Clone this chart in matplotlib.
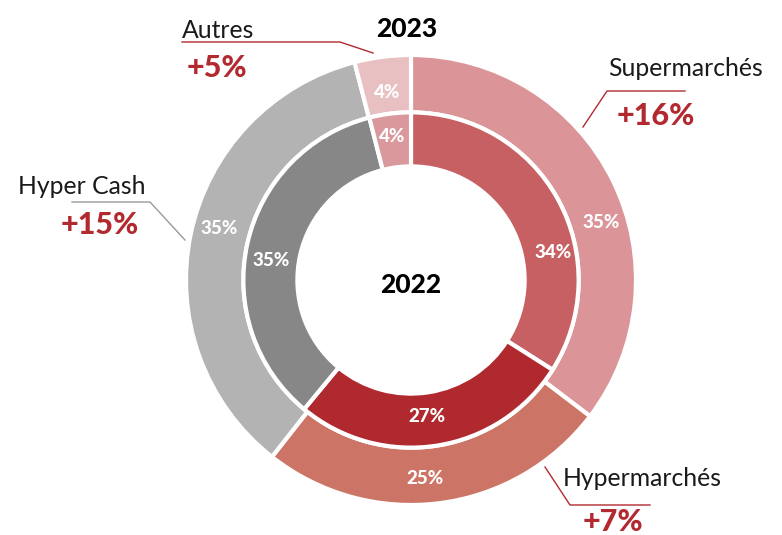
import numpy as np
import matplotlib
matplotlib.use('Agg')
import matplotlib.pyplot as plt

# Share of sales by channel (%), outer ring = 2023, inner ring = 2022
channels = ['Supermarchés', 'Hypermarchés', 'Hyper Cash', 'Autres']
share_2023 = [35, 25, 35, 4]
share_2022 = [34, 27, 35, 4]
growth = ['+16%', '+7%', '+15%', '+5%']

outer_colors = ['#DB9598', '#CC7567', '#B3B3B3', '#E9C0C2']
inner_colors = ['#C66063', '#B0292F', '#878787', '#D9989C']
RED = '#B22A30'

plt.rcParams['font.family'] = ['Lato', 'DejaVu Sans']

W, H, DPI = 782, 535, 100
CX, CY, R = 411, 280, 225   # pie centre and radius in pixels


def px(x, y):
    # pixel position -> data coordinates (unit = outer radius)
    return (x - CX) / R, (CY - y) / R


fig = plt.figure(figsize=(W / DPI, H / DPI), dpi=DPI)
ax = fig.add_axes([0, 0, 1, 1])

wp = dict(edgecolor='white', linewidth=3)
ax.pie(share_2023, radius=1.0, colors=outer_colors, startangle=90,
       counterclock=False, wedgeprops=dict(width=0.255, **wp))
ax.pie(share_2022, radius=0.745, colors=inner_colors, startangle=90,
       counterclock=False, wedgeprops=dict(width=0.24, **wp))

# pie() resets the limits, so set them afterwards
ax.set_aspect('auto')
ax.set_xlim(-CX / R, (W - CX) / R)
ax.set_ylim(-(H - CY) / R, CY / R)
ax.axis('off')

# percentage labels (pixel positions)
outer_pos = [(601, 223), (425, 478), (219, 229), (387, 92)]
inner_pos = [(553, 253), (427, 416), (271, 260), (392, 136)]
for vals, pos in ((share_2023, outer_pos), (share_2022, inner_pos)):
    for v, (x, y) in zip(vals, pos):
        ax.text(*px(x, y), f'{v}%', color='white', fontsize=13.5,
                fontweight='black', ha='center', va='center')

ax.text(*px(407, 29), '2023', fontsize=19, fontweight='black',
        ha='center', va='center')
ax.text(*px(411, 285), '2022', fontsize=19, fontweight='black',
        ha='center', va='center')

# callouts: name position, growth position, leader line points, line colour
callouts = [
    ((608, 68, 'left'), (656, 116), [(583, 127), (607, 91), (685, 91)], RED),
    ((563, 478, 'left'), (613, 522), [(545, 467), (570, 505), (650, 505)], RED),
    ((145, 186, 'right'), (100, 225), [(72, 202), (150, 202), (185, 240)], '#9A9A9A'),
    ((182, 30, 'left'), (217, 68), [(182, 42), (340, 42), (373, 53)], RED),
]
for name, g, (lab, gpos, pts, lc) in zip(channels, growth, callouts):
    ax.text(*px(lab[0], lab[1]), name, fontsize=17.8, ha=lab[2], va='center',
            color='#1a1a1a')
    ax.text(*px(*gpos), g, fontsize=22, fontweight='black', color=RED,
            ha='center', va='center')
    xs, ys = zip(*[px(x, y) for x, y in pts])
    ax.plot(xs, ys, color=lc, linewidth=1)

fig.savefig('out.png', dpi=DPI)
